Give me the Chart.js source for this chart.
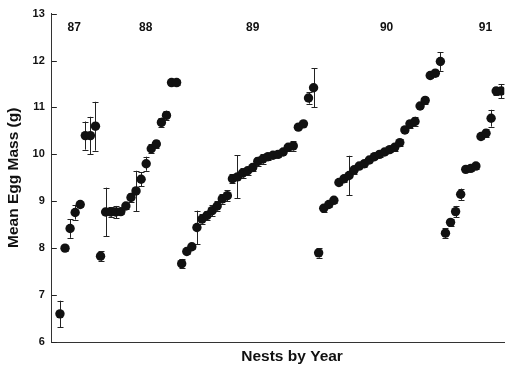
<!DOCTYPE html>
<html>
<head>
<meta charset="utf-8">
<script src="https://cdn.jsdelivr.net/npm/chart.js@4.4.1/dist/chart.umd.min.js"></script>
<style>
  html, body { margin: 0; padding: 0; background: #fff; }
  #wrap { width: 509px; height: 372px; }
</style>
</head>
<body>
<div id="wrap"><canvas id="egg-chart"></canvas></div>
<script>
// Mean egg mass (g) per nest, sorted within each year, with error bar half-widths
const years = ['87', '88', '89', '90', '91'];

const mass87 = [6.6, 8.0, 8.42, 8.76, 8.93, 10.4, 10.4, 10.6];
const err87  = [0.28, 0.05, 0.2, 0.15, 0.05, 0.3, 0.4, 0.52];

const mass88 = [7.83, 8.77, 8.77, 8.77, 8.78, 8.9, 9.08, 9.22, 9.47, 9.8, 10.12, 10.22, 10.68, 10.83, 11.53, 11.53];
const err88  = [0.1, 0.52, 0.1, 0.13, 0.05, 0.07, 0.1, 0.43, 0.15, 0.15, 0.1, 0.08, 0.1, 0.1, 0.06, 0.05];

const mass89 = [7.67, 7.93, 8.03, 8.44, 8.62, 8.7, 8.8, 8.9, 9.05, 9.12, 9.48, 9.52, 9.6, 9.65,
                9.72, 9.85, 9.9, 9.95, 9.98, 10.0, 10.05, 10.15, 10.18, 10.58, 10.65, 11.2, 11.42];
const err89  = [0.1, 0.05, 0.05, 0.36, 0.1, 0.1, 0.12, 0.1, 0.1, 0.12, 0.1, 0.46, 0.1, 0.08,
                0.08, 0.1, 0.1, 0.08, 0.05, 0.05, 0.05, 0.08, 0.1, 0.05, 0.05, 0.12, 0.42];

const mass90 = [7.9, 8.85, 8.93, 9.02, 9.4, 9.48, 9.55, 9.67, 9.75, 9.8, 9.88, 9.95, 10.0,
                10.05, 10.1, 10.15, 10.25, 10.52, 10.65, 10.7, 11.03, 11.15, 11.68, 11.73, 11.98];
const err90  = [0.1, 0.08, 0.05, 0.05, 0.05, 0.08, 0.42, 0.08, 0.05, 0.08, 0.05, 0.05, 0.05,
                0.05, 0.05, 0.08, 0.08, 0.05, 0.08, 0.1, 0.05, 0.08, 0.05, 0.05, 0.2];

const mass91 = [8.32, 8.55, 8.78, 9.15, 9.68, 9.7, 9.75, 10.38, 10.45, 10.77, 11.35, 11.35];
const err91  = [0.1, 0.08, 0.12, 0.12, 0.05, 0.05, 0.06, 0.06, 0.08, 0.18, 0.08, 0.15];

const yTicks = [6, 7, 8, 9, 10, 11, 12, 13];

// where each year label sits along the nest axis
const yearLabelAt = [2.8, 16.9, 38, 64.4, 83.9];

const groups = [
    { mass: mass87, err: err87 },
    { mass: mass88, err: err88 },
    { mass: mass89, err: err89 },
    { mass: mass90, err: err90 },
    { mass: mass91, err: err91 },
];

// nests are laid out one after another along x, year after year
let nest = 0;
const datasets = groups.map((g, i) => ({
    label: years[i],
    data: g.mass.map((m, j) => ({ x: nest++, y: m, e: g.err[j] })),
    backgroundColor: '#111',
    borderColor: '#111',
    pointRadius: 4.7,
    pointHoverRadius: 4.7,
    borderWidth: 0,
}));
const lastNest = nest - 1;

const fontFamily = '"Liberation Sans", Arial, sans-serif';

const errorBars = {
    id: 'errorBars',
    beforeDatasetsDraw(chart) {
        const ctx = chart.ctx;
        const yScale = chart.scales.y;
        ctx.save();
        ctx.strokeStyle = '#222';
        ctx.lineWidth = 1;
        chart.data.datasets.forEach((ds, di) => {
            const meta = chart.getDatasetMeta(di);
            meta.data.forEach((pt, k) => {
                const d = ds.data[k];
                const x = Math.round(pt.x) + 0.5;
                const top = yScale.getPixelForValue(d.y + d.e);
                const bot = yScale.getPixelForValue(d.y - d.e);
                ctx.beginPath();
                ctx.moveTo(x, top);
                ctx.lineTo(x, bot);
                ctx.moveTo(x - 3, Math.round(top) + 0.5);
                ctx.lineTo(x + 3, Math.round(top) + 0.5);
                ctx.moveTo(x - 3, Math.round(bot) + 0.5);
                ctx.lineTo(x + 3, Math.round(bot) + 0.5);
                ctx.stroke();
            });
        });
        ctx.restore();
    }
};

const decorations = {
    id: 'decorations',
    afterDraw(chart) {
        const ctx = chart.ctx;
        const { left, right, bottom } = chart.chartArea;
        const xScale = chart.scales.x;
        const yScale = chart.scales.y;
        ctx.save();
        // short inward ticks on the y axis
        ctx.strokeStyle = '#222';
        ctx.lineWidth = 1;
        yScale.ticks.forEach(t => {
            const y = Math.round(yScale.getPixelForValue(t.value)) + 0.5;
            ctx.beginPath();
            ctx.moveTo(left, y);
            ctx.lineTo(left + 5, y);
            ctx.stroke();
        });
        // year labels across the top
        ctx.fillStyle = '#111';
        ctx.font = 'bold 12px ' + fontFamily;
        ctx.textAlign = 'center';
        ctx.textBaseline = 'middle';
        years.forEach((yr, i) => {
            ctx.fillText(yr, xScale.getPixelForValue(yearLabelAt[i]), yScale.getPixelForValue(12.7));
        });
        // x axis title
        ctx.font = 'bold 15.5px ' + fontFamily;
        ctx.fillText('Nests by Year', (left + right) / 2 + 14, bottom + 15);
        ctx.restore();
    }
};

new Chart(document.getElementById('egg-chart'), {
    type: 'scatter',
    data: { datasets: datasets },
    options: {
        responsive: true,
        maintainAspectRatio: false,
        animation: false,
        layout: { padding: { left: 4, right: 4, top: 8, bottom: 30 } },
        plugins: {
            legend: { display: false },
            tooltip: { enabled: false },
        },
        scales: {
            x: {
                type: 'linear',
                min: -1.6,
                max: lastNest + 0.6,
                ticks: { display: false },
                grid: { display: true, drawOnChartArea: false, drawTicks: false },
                border: { color: '#333', width: 1 },
            },
            y: {
                min: 6,
                max: 13,
                afterBuildTicks(axis) {
                    axis.ticks = yTicks.map(v => ({ value: v }));
                },
                ticks: {
                    color: '#111',
                    padding: 7,
                    font: { family: fontFamily, size: 11, weight: 'bold' },
                },
                grid: { display: true, drawOnChartArea: false, drawTicks: false },
                border: { color: '#333', width: 1 },
                title: {
                    display: true,
                    text: 'Mean Egg Mass (g)',
                    color: '#111',
                    padding: { top: 0, bottom: 3 },
                    font: { family: fontFamily, size: 15.5, weight: 'bold' },
                },
            },
        },
    },
    plugins: [errorBars, decorations],
});
</script>
</body>
</html>
